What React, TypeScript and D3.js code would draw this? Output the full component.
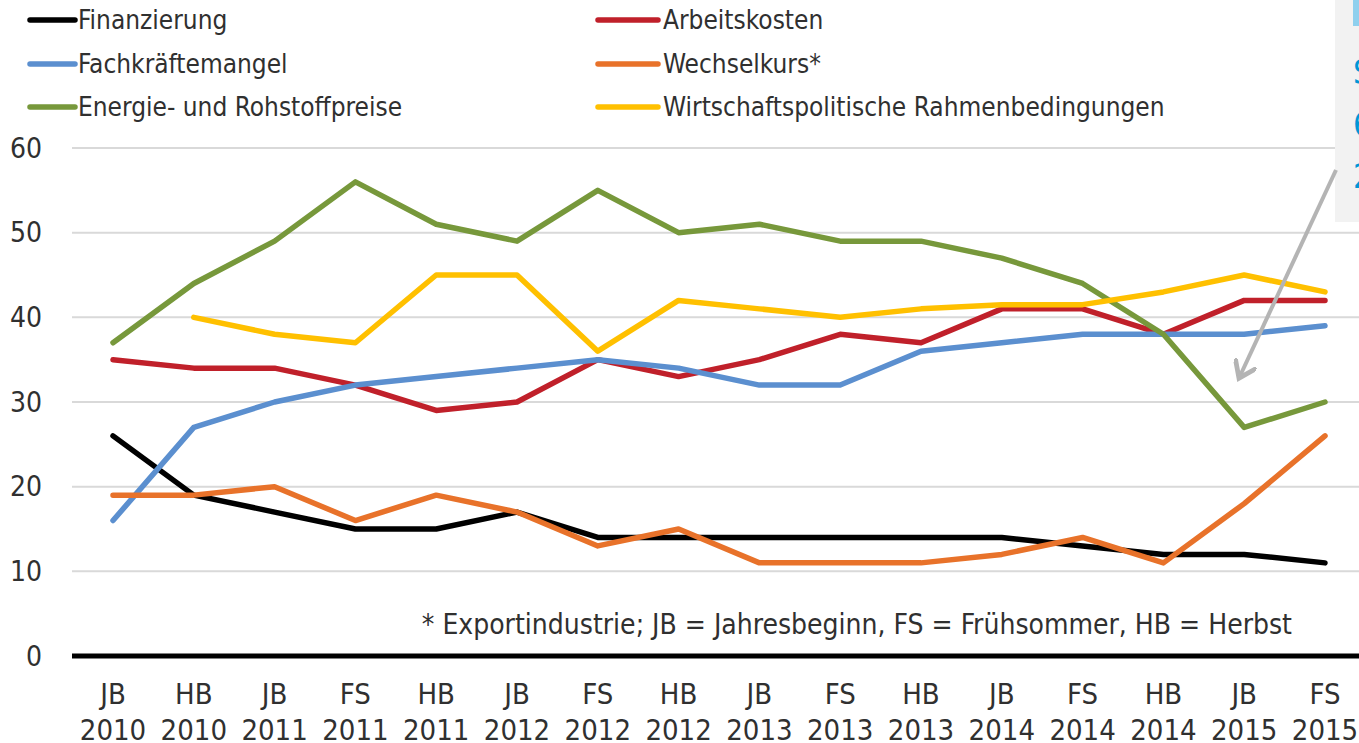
import * as d3 from 'd3';
import React, { useEffect, useRef } from 'react';

// survey waves (JB = Jahresbeginn, FS = Frühsommer, HB = Herbst)
const periods = ['JB', 'HB', 'JB', 'FS', 'HB', 'JB', 'FS', 'HB', 'JB', 'FS', 'HB', 'JB', 'FS', 'HB', 'JB', 'FS'];
const years = ['2010', '2010', '2011', '2011', '2011', '2012', '2012', '2012', '2013', '2013', '2013', '2014', '2014', '2014', '2015', '2015'];
const categories = periods.map((p, i) => p + ' ' + years[i]);

const yTicks = [0, 10, 20, 30, 40, 50, 60];

const finanzierung = [26, 19, 17, 15, 15, 17, 14, 14, 14, 14, 14, 14, 13, 12, 12, 11];
const arbeitskosten = [35, 34, 34, 32, 29, 30, 35, 33, 35, 38, 37, 41, 41, 38, 42, 42];
const fachkraefte = [16, 27, 30, 32, 33, 34, 35, 34, 32, 32, 36, 37, 38, 38, 38, 39];
const wechselkurs = [19, 19, 20, 16, 19, 17, 13, 15, 11, 11, 11, 12, 14, 11, 18, 26];
const energie = [37, 44, 49, 56, 51, 49, 55, 50, 51, 49, 49, 47, 44, 38, 27, 30];
const wirtschaftspolitik = [null, 40, 38, 37, 45, 45, 36, 42, 41, 40, 41, 41.5, 41.5, 43, 45, 43];

const footnote = '* Exportindustrie; JB = Jahresbeginn, FS = Frühsommer, HB = Herbst';

const series = [
  { label: 'Finanzierung', values: finanzierung, color: '#000000', col: 0, row: 0 },
  { label: 'Arbeitskosten', values: arbeitskosten, color: '#C0202A', col: 1, row: 0 },
  { label: 'Fachkräftemangel', values: fachkraefte, color: '#5B8FCF', col: 0, row: 1 },
  { label: 'Wechselkurs*', values: wechselkurs, color: '#E8722A', col: 1, row: 1 },
  { label: 'Energie- und Rohstoffpreise', values: energie, color: '#77983B', col: 0, row: 2 },
  { label: 'Wirtschaftspolitische Rahmenbedingungen', values: wirtschaftspolitik, color: '#FFC000', col: 1, row: 2 },
];

// cut-off callout text at the right edge
const calloutChars = ['S', '6', '2'];

const FONT = '"DejaVu Sans Condensed", "DejaVu Sans", sans-serif';

const LineChart = () => {
  const ref = useRef<SVGSVGElement>(null);

  useEffect(() => {
    const width = 1359;
    const height = 743;
    const svg = d3.select(ref.current);
    svg.selectAll('*').remove();
    svg.attr('width', width).attr('height', height).style('font-family', FONT);

    const x = d3.scalePoint<string>().domain(categories).range([113, 1325]);
    const y = d3.scaleLinear().domain([0, 60]).range([656, 148]);

    // gridlines
    svg.selectAll('.grid')
      .data(yTicks.filter(t => t > 0))
      .enter().append('line')
      .attr('x1', 72).attr('x2', width)
      .attr('y1', d => y(d)).attr('y2', d => y(d))
      .attr('stroke', '#d9d9d9').attr('stroke-width', 2);

    // y tick labels
    svg.selectAll('.ytick')
      .data(yTicks)
      .enter().append('text')
      .attr('x', 42).attr('y', d => y(d))
      .attr('dy', '0.35em')
      .attr('text-anchor', 'end')
      .attr('font-size', 28)
      .attr('fill', '#303030')
      .text(d => d);

    // callout box (cut off at the edge)
    svg.append('rect')
      .attr('x', 1335).attr('y', 0).attr('width', 30).attr('height', 222)
      .attr('fill', '#F2F2F2');
    svg.selectAll('.callout')
      .data(calloutChars)
      .enter().append('text')
      .attr('x', 1353).attr('y', (d, i) => 84 + i * 52)
      .attr('font-size', 34)
      .attr('fill', '#0096D6')
      .text(d => d);
    svg.append('rect')
      .attr('x', 1353).attr('y', 0).attr('width', 6).attr('height', 26)
      .attr('fill', '#8FD0EE');

    // series lines
    const line = d3.line<number | null>()
      .defined(d => d !== null)
      .x((d, i) => x(categories[i]) as number)
      .y(d => y(d as number));

    svg.selectAll('.series')
      .data(series)
      .enter().append('path')
      .attr('d', d => line(d.values as (number | null)[]))
      .attr('fill', 'none')
      .attr('stroke', d => d.color)
      .attr('stroke-width', 5.5)
      .attr('stroke-linejoin', 'round')
      .attr('stroke-linecap', 'round');

    // arrow from callout
    const defs = svg.append('defs');
    defs.append('marker')
      .attr('id', 'arrowhead')
      .attr('viewBox', '0 0 10 10')
      .attr('refX', 6).attr('refY', 5)
      .attr('markerWidth', 6).attr('markerHeight', 6)
      .attr('orient', 'auto')
      .append('path')
      .attr('d', 'M0,0 L7,5 L0,10')
      .attr('fill', 'none')
      .attr('stroke', '#B4B4B4')
      .attr('stroke-width', 2);
    svg.append('line')
      .attr('x1', 1336).attr('y1', 170)
      .attr('x2', 1240).attr('y2', 376)
      .attr('stroke', '#B4B4B4')
      .attr('stroke-width', 4)
      .attr('marker-end', 'url(#arrowhead)');

    // zero axis
    svg.append('line')
      .attr('x1', 72).attr('x2', width)
      .attr('y1', y(0)).attr('y2', y(0))
      .attr('stroke', '#000').attr('stroke-width', 5);

    // x labels
    const xl = svg.selectAll('.xlabel')
      .data(categories)
      .enter().append('g')
      .attr('transform', d => 'translate(' + x(d) + ',0)');
    xl.append('text')
      .attr('y', 704).attr('text-anchor', 'middle')
      .attr('font-size', 29).attr('fill', '#303030')
      .text((d, i) => periods[i]);
    xl.append('text')
      .attr('y', 740).attr('text-anchor', 'middle')
      .attr('font-size', 29).attr('fill', '#303030')
      .text((d, i) => years[i]);

    // footnote
    svg.append('text')
      .attr('x', 1292).attr('y', 634)
      .attr('text-anchor', 'end')
      .attr('font-size', 28).attr('fill', '#303030')
      .text(footnote);

    // legend
    const colX = [30, 598];
    const rowY = [20, 64, 107];
    const lg = svg.selectAll('.legend')
      .data(series)
      .enter().append('g')
      .attr('transform', d => 'translate(' + colX[d.col] + ',' + rowY[d.row] + ')');
    lg.append('line')
      .attr('x1', 0).attr('x2', d => d.col === 0 ? 45 : 60)
      .attr('stroke', d => d.color)
      .attr('stroke-width', 5.5)
      .attr('stroke-linecap', 'round');
    lg.append('text')
      .attr('x', d => d.col === 0 ? 48 : 65)
      .attr('dy', '0.35em')
      .attr('font-size', 26).attr('fill', '#303030')
      .text(d => d.label);
  }, []);

  return <svg ref={ref} style={{ position: 'absolute', left: 0, top: 0 }} />;
};

export default function App() {
  return <LineChart />;
}
